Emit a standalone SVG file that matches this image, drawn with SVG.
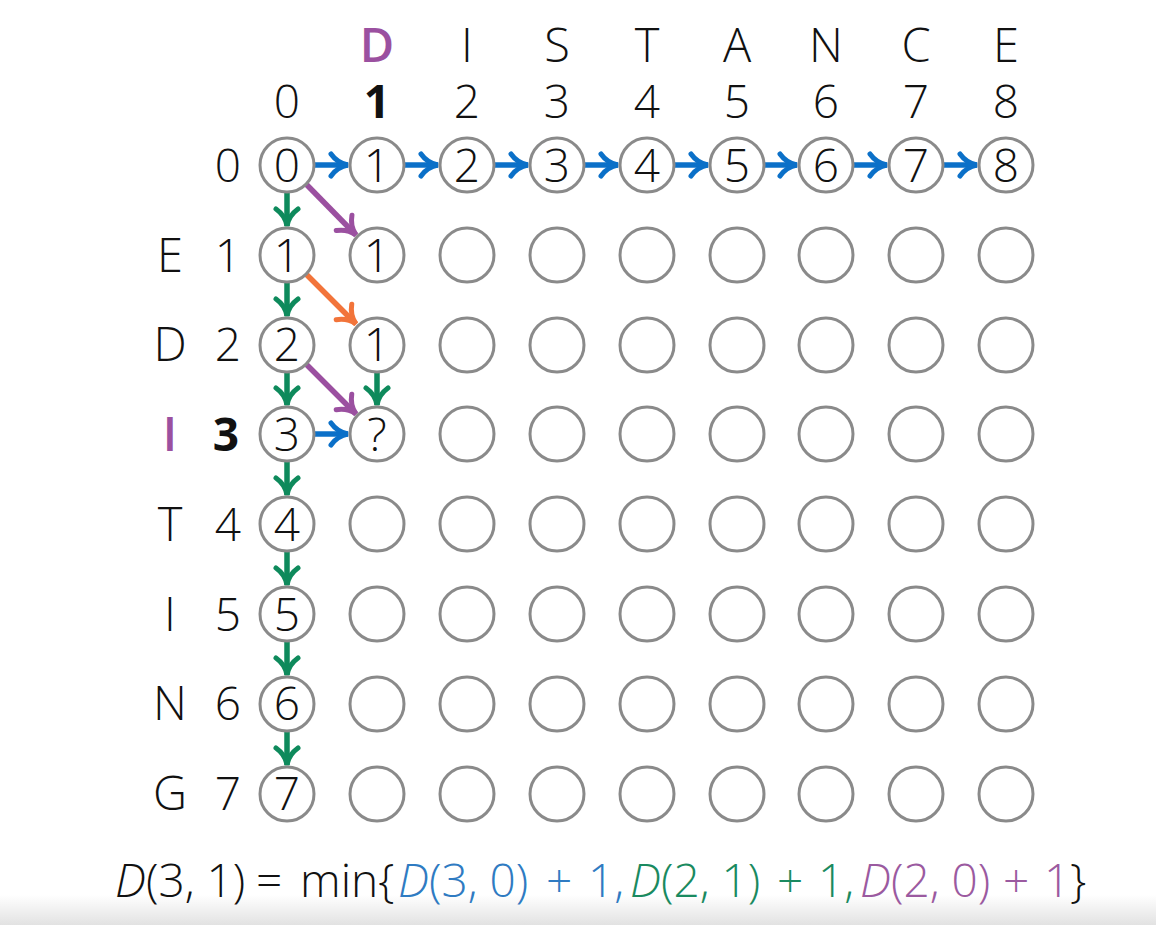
<svg xmlns="http://www.w3.org/2000/svg" width="1156" height="925" viewBox="0 0 1156 925">
<style>
.c{fill:#fff;stroke:#8a8a8a;stroke-width:3}
.t{font-family:"Open Sans","Liberation Sans",sans-serif;font-weight:300;fill:#111;text-anchor:middle}
.n{font-size:46px}
.h{font-size:47px}
.b{font-weight:700}
.m{font-weight:600}
.pu{fill:#9b50a0}
.f{font-family:"Open Sans","Liberation Sans",sans-serif;font-weight:300;font-size:46px}
.blue{stroke:#0b70c8}
.green{stroke:#0e8a5c}
.purple{stroke:#9b50a0}
.orange{stroke:#f2743a}
.a{fill:none;stroke-width:5.5}
</style>
<defs>
<linearGradient id="bg" x1="0" y1="0" x2="0" y2="1">
<stop offset="0" stop-color="#ffffff"/>
<stop offset="1" stop-color="#e2e2e2"/>
</linearGradient>
<marker id="mb" viewBox="-22 -15 26 30" refX="0" refY="0" markerWidth="26" markerHeight="30" markerUnits="userSpaceOnUse" orient="auto"><path d="M-17,-11 C-12,-4 -6,-1 0,0 C-6,1 -12,4 -17,11" fill="none" stroke="#0b70c8" stroke-width="5" stroke-linecap="round"/></marker>
<marker id="mg" viewBox="-22 -15 26 30" refX="0" refY="0" markerWidth="26" markerHeight="30" markerUnits="userSpaceOnUse" orient="auto"><path d="M-17,-11 C-12,-4 -6,-1 0,0 C-6,1 -12,4 -17,11" fill="none" stroke="#0e8a5c" stroke-width="5" stroke-linecap="round"/></marker>
<marker id="mp" viewBox="-22 -15 26 30" refX="0" refY="0" markerWidth="26" markerHeight="30" markerUnits="userSpaceOnUse" orient="auto"><path d="M-17,-11 C-12,-4 -6,-1 0,0 C-6,1 -12,4 -17,11" fill="none" stroke="#9b50a0" stroke-width="5" stroke-linecap="round"/></marker>
<marker id="mo" viewBox="-22 -15 26 30" refX="0" refY="0" markerWidth="26" markerHeight="30" markerUnits="userSpaceOnUse" orient="auto"><path d="M-17,-11 C-12,-4 -6,-1 0,0 C-6,1 -12,4 -17,11" fill="none" stroke="#f2743a" stroke-width="5" stroke-linecap="round"/></marker>
</defs>
<rect width="1156" height="925" fill="#fff"/>
<rect y="895" width="1156" height="30" fill="url(#bg)"/>

<g id="header">
<text class="t h m pu" x="377" y="62">D</text>
<text class="t h" x="467" y="62">I</text>
<text class="t h" x="557" y="62">S</text>
<text class="t h" x="647" y="62">T</text>
<text class="t h" x="737" y="62">A</text>
<text class="t h" x="826" y="62">N</text>
<text class="t h" x="916" y="62">C</text>
<text class="t h" x="1006" y="62">E</text>
<text class="t n" x="287" y="118">0</text>
<text class="t n b" x="377" y="118">1</text>
<text class="t n" x="467" y="118">2</text>
<text class="t n" x="557" y="118">3</text>
<text class="t n" x="647" y="118">4</text>
<text class="t n" x="737" y="118">5</text>
<text class="t n" x="826" y="118">6</text>
<text class="t n" x="916" y="118">7</text>
<text class="t n" x="1006" y="118">8</text>
</g>

<g id="rowlabels">
<text class="t n" x="228" y="182">0</text>
<text class="t h" x="170" y="272">E</text><text class="t n" x="228" y="272">1</text>
<text class="t h" x="170" y="361">D</text><text class="t n" x="228" y="361">2</text>
<text class="t h m pu" x="170" y="451">I</text><text class="t n b" x="226" y="451">3</text>
<text class="t h" x="170" y="541">T</text><text class="t n" x="228" y="541">4</text>
<text class="t h" x="170" y="631">I</text><text class="t n" x="228" y="631">5</text>
<text class="t h" x="170" y="720">N</text><text class="t n" x="228" y="720">6</text>
<text class="t h" x="170" y="810">G</text><text class="t n" x="228" y="810">7</text>
</g>

<g id="connectors">
<g class="a blue">
<line x1="314" y1="165" x2="348" y2="165" marker-end="url(#mb)"/>
<line x1="404" y1="165" x2="438" y2="165" marker-end="url(#mb)"/>
<line x1="494" y1="165" x2="528" y2="165" marker-end="url(#mb)"/>
<line x1="584" y1="165" x2="618" y2="165" marker-end="url(#mb)"/>
<line x1="674" y1="165" x2="708" y2="165" marker-end="url(#mb)"/>
<line x1="764" y1="165" x2="797" y2="165" marker-end="url(#mb)"/>
<line x1="853" y1="165" x2="887" y2="165" marker-end="url(#mb)"/>
<line x1="943" y1="165" x2="977" y2="165" marker-end="url(#mb)"/>
<line x1="314" y1="434" x2="348" y2="434" marker-end="url(#mb)"/>
</g>
<g class="a green">
<line x1="287" y1="192" x2="287" y2="226" marker-end="url(#mg)"/>
<line x1="287" y1="282" x2="287" y2="316" marker-end="url(#mg)"/>
<line x1="287" y1="372" x2="287" y2="405" marker-end="url(#mg)"/>
<line x1="287" y1="461" x2="287" y2="495" marker-end="url(#mg)"/>
<line x1="287" y1="551" x2="287" y2="585" marker-end="url(#mg)"/>
<line x1="287" y1="641" x2="287" y2="675" marker-end="url(#mg)"/>
<line x1="287" y1="731" x2="287" y2="765" marker-end="url(#mg)"/>
<line x1="377" y1="372" x2="377" y2="405" marker-end="url(#mg)"/>
</g>
<g class="a purple">
<line x1="306" y1="184" x2="356" y2="235" marker-end="url(#mp)"/>
<line x1="306" y1="364" x2="356" y2="414" marker-end="url(#mp)"/>
</g>
<g class="a orange">
<line x1="306" y1="274" x2="356" y2="324" marker-end="url(#mo)"/>
</g>
</g>

<g id="nodes">
<g id="n0-0"><circle class="c" cx="287" cy="165" r="27"/><text class="t n" x="287" y="182">0</text></g>
<g id="n0-1"><circle class="c" cx="377" cy="165" r="27"/><text class="t n" x="377" y="182">1</text></g>
<g id="n0-2"><circle class="c" cx="467" cy="165" r="27"/><text class="t n" x="467" y="182">2</text></g>
<g id="n0-3"><circle class="c" cx="557" cy="165" r="27"/><text class="t n" x="557" y="182">3</text></g>
<g id="n0-4"><circle class="c" cx="647" cy="165" r="27"/><text class="t n" x="647" y="182">4</text></g>
<g id="n0-5"><circle class="c" cx="737" cy="165" r="27"/><text class="t n" x="737" y="182">5</text></g>
<g id="n0-6"><circle class="c" cx="826" cy="165" r="27"/><text class="t n" x="826" y="182">6</text></g>
<g id="n0-7"><circle class="c" cx="916" cy="165" r="27"/><text class="t n" x="916" y="182">7</text></g>
<g id="n0-8"><circle class="c" cx="1006" cy="165" r="27"/><text class="t n" x="1006" y="182">8</text></g>

<g id="n1-0"><circle class="c" cx="287" cy="255" r="27"/><text class="t n" x="287" y="272">1</text></g>
<g id="n1-1"><circle class="c" cx="377" cy="255" r="27"/><text class="t n" x="377" y="272">1</text></g>
<g id="n2-0"><circle class="c" cx="287" cy="345" r="27"/><text class="t n" x="287" y="361">2</text></g>
<g id="n2-1"><circle class="c" cx="377" cy="345" r="27"/><text class="t n" x="377" y="361">1</text></g>
<g id="n3-0"><circle class="c" cx="287" cy="434" r="27"/><text class="t n" x="287" y="451">3</text></g>
<g id="n3-1"><circle class="c" cx="377" cy="434" r="27"/><text class="t n" x="377" y="451">?</text></g>
<g id="n4-0"><circle class="c" cx="287" cy="524" r="27"/><text class="t n" x="287" y="541">4</text></g>
<g id="n5-0"><circle class="c" cx="287" cy="614" r="27"/><text class="t n" x="287" y="631">5</text></g>
<g id="n6-0"><circle class="c" cx="287" cy="704" r="27"/><text class="t n" x="287" y="720">6</text></g>
<g id="n7-0"><circle class="c" cx="287" cy="794" r="27"/><text class="t n" x="287" y="810">7</text></g>

<g id="empty">
<circle class="c" cx="467" cy="255" r="27"/><circle class="c" cx="557" cy="255" r="27"/><circle class="c" cx="647" cy="255" r="27"/><circle class="c" cx="737" cy="255" r="27"/><circle class="c" cx="826" cy="255" r="27"/><circle class="c" cx="916" cy="255" r="27"/><circle class="c" cx="1006" cy="255" r="27"/>
<circle class="c" cx="467" cy="345" r="27"/><circle class="c" cx="557" cy="345" r="27"/><circle class="c" cx="647" cy="345" r="27"/><circle class="c" cx="737" cy="345" r="27"/><circle class="c" cx="826" cy="345" r="27"/><circle class="c" cx="916" cy="345" r="27"/><circle class="c" cx="1006" cy="345" r="27"/>
<circle class="c" cx="467" cy="434" r="27"/><circle class="c" cx="557" cy="434" r="27"/><circle class="c" cx="647" cy="434" r="27"/><circle class="c" cx="737" cy="434" r="27"/><circle class="c" cx="826" cy="434" r="27"/><circle class="c" cx="916" cy="434" r="27"/><circle class="c" cx="1006" cy="434" r="27"/>
<circle class="c" cx="377" cy="524" r="27"/><circle class="c" cx="467" cy="524" r="27"/><circle class="c" cx="557" cy="524" r="27"/><circle class="c" cx="647" cy="524" r="27"/><circle class="c" cx="737" cy="524" r="27"/><circle class="c" cx="826" cy="524" r="27"/><circle class="c" cx="916" cy="524" r="27"/><circle class="c" cx="1006" cy="524" r="27"/>
<circle class="c" cx="377" cy="614" r="27"/><circle class="c" cx="467" cy="614" r="27"/><circle class="c" cx="557" cy="614" r="27"/><circle class="c" cx="647" cy="614" r="27"/><circle class="c" cx="737" cy="614" r="27"/><circle class="c" cx="826" cy="614" r="27"/><circle class="c" cx="916" cy="614" r="27"/><circle class="c" cx="1006" cy="614" r="27"/>
<circle class="c" cx="377" cy="704" r="27"/><circle class="c" cx="467" cy="704" r="27"/><circle class="c" cx="557" cy="704" r="27"/><circle class="c" cx="647" cy="704" r="27"/><circle class="c" cx="737" cy="704" r="27"/><circle class="c" cx="826" cy="704" r="27"/><circle class="c" cx="916" cy="704" r="27"/><circle class="c" cx="1006" cy="704" r="27"/>
<circle class="c" cx="377" cy="794" r="27"/><circle class="c" cx="467" cy="794" r="27"/><circle class="c" cx="557" cy="794" r="27"/><circle class="c" cx="647" cy="794" r="27"/><circle class="c" cx="737" cy="794" r="27"/><circle class="c" cx="826" cy="794" r="27"/><circle class="c" cx="916" cy="794" r="27"/><circle class="c" cx="1006" cy="794" r="27"/>
</g>
</g>

<g id="formula" class="f">
<text x="115" y="897" fill="#111"><tspan font-style="italic">D</tspan>(3, 1)</text>
<text x="256" y="897" fill="#111">=</text>
<text x="300" y="897" fill="#111">min{</text>
<text x="398" y="897" fill="#2f7bc2"><tspan font-style="italic">D</tspan>(3, 0)</text>
<text x="546" y="897" fill="#2f7bc2">+</text>
<text x="588" y="897" fill="#2f7bc2">1,</text>
<text x="630" y="897" fill="#1a8a60"><tspan font-style="italic">D</tspan>(2, 1)</text>
<text x="777" y="897" fill="#1a8a60">+</text>
<text x="818" y="897" fill="#1a8a60">1,</text>
<text x="860" y="897" fill="#9b5aa0"><tspan font-style="italic">D</tspan>(2, 0)</text>
<text x="1003" y="897" fill="#9b5aa0">+</text>
<text x="1044" y="897" fill="#9b5aa0">1</text>
<text x="1070" y="897" fill="#111">}</text>
</g>
</svg>
